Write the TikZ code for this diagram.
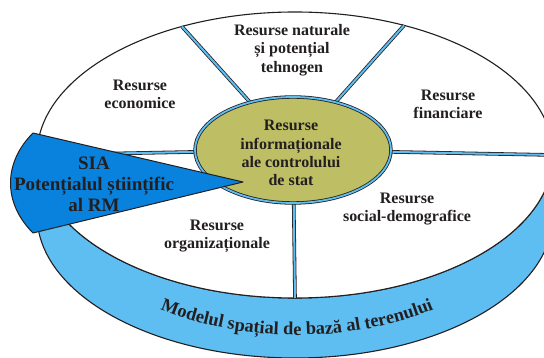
\documentclass[tikz,border=0pt]{standalone}
\usepackage{fontspec}
\setmainfont{Liberation Serif}
\usepackage{tikz}
\usetikzlibrary{calc,decorations.text}
\definecolor{ink}{HTML}{231F20}
\definecolor{sky}{HTML}{5EBEF2}
\definecolor{royal}{HTML}{0882DC}
\definecolor{hubfill}{HTML}{BEBE64}
\tikzset{
  rim/.style={draw=ink, line width=1.1pt, line join=round},
  sep/.style={draw=ink, line width=0.8pt, double=sky, double distance=2pt},
  hub/.style={draw=ink, line width=0.8pt, double=sky, double distance=1.8pt, fill=hubfill},
  wedge/.style={draw=ink, line width=1pt, fill=royal, line join=round},
  lab/.style={text=ink, font=\fontsize{16}{18.3}\selectfont\bfseries, align=center},
  labb/.style={text=ink, font=\fontsize{19}{21}\selectfont\bfseries, align=center},
}

\begin{document}
\begin{tikzpicture}[x=1pt,y=1pt]
  \pgfmathsetmacro{\Rx}{258}
  \pgfmathsetmacro{\Ry}{143}
  \useasboundingbox (0,0) rectangle (544,-358);
  \clip (0,0) rectangle (544,-358);
  \coordinate (T) at (295,-155);
  \coordinate (L) at (295,-215);
  \coordinate (H) at (293,-150);

  % side of the disc
  \draw[rim, fill=sky] ($(T)+(-\Rx,0)$) -- ($(L)+(-\Rx,0)$)
    arc[start angle=180, end angle=360, x radius=\Rx, y radius=\Ry]
    -- ($(T)+(\Rx,0)$)
    arc[start angle=360, end angle=180, x radius=\Rx, y radius=\Ry] -- cycle;

  % top face
  \draw[rim, fill=white] (T) ellipse [x radius=\Rx, y radius=\Ry];

  % sector borders
  \foreach \a/\n in {116/1,65/2,0/3,270/4,180/5}
    \coordinate (S\n) at ($(T)+(\a:\Rx pt and \Ry pt)$);
  \foreach \n in {1,...,5}
    \draw[sep] (H) -- (S\n);

  \draw[hub] (H) ellipse [x radius=98, y radius=53];

  % pointer
  \coordinate (Pt) at (33,-133);
  \coordinate (Pb) at (33,-233);
  \coordinate (Tip) at (243,-182);
  \draw[wedge] (Pt) -- (Tip) -- (Pb) .. controls (3,-203) and (3,-163) .. (Pt) -- cycle;

  % labels
  \node[lab] (econ) at (140,-94) {Resurse\\economice};
  \node[lab] (nat) at (292,-50) {Resurse naturale\\și potențial\\tehnogen};
  \node[lab] (fin) at (448,-104) {Resurse\\financiare};
  \node[lab] (soc) at (407,-209) {Resurse\\social-demografice};
  \node[lab] (org) at (217,-236) {Resurse\\organizaționale};
  \node[lab] (info) at (291,-153) {Resurse\\informaționale\\ale controlului\\de stat};
  \node[labb] (sia) at (94,-184) {SIA\\Potențialul științific\\al RM};

  % band text
  \coordinate (B) at (297,-192);
  \path[decorate, decoration={text along path, text align=center, text color=ink,
      text={|\fontsize{18.3}{18}\selectfont\bfseries|Modelul spațial de bază al terenului}}]
    ($(B)+(200:240pt and 143pt)$) arc[start angle=200, end angle=340, x radius=240, y radius=143];
\end{tikzpicture}
\end{document}
